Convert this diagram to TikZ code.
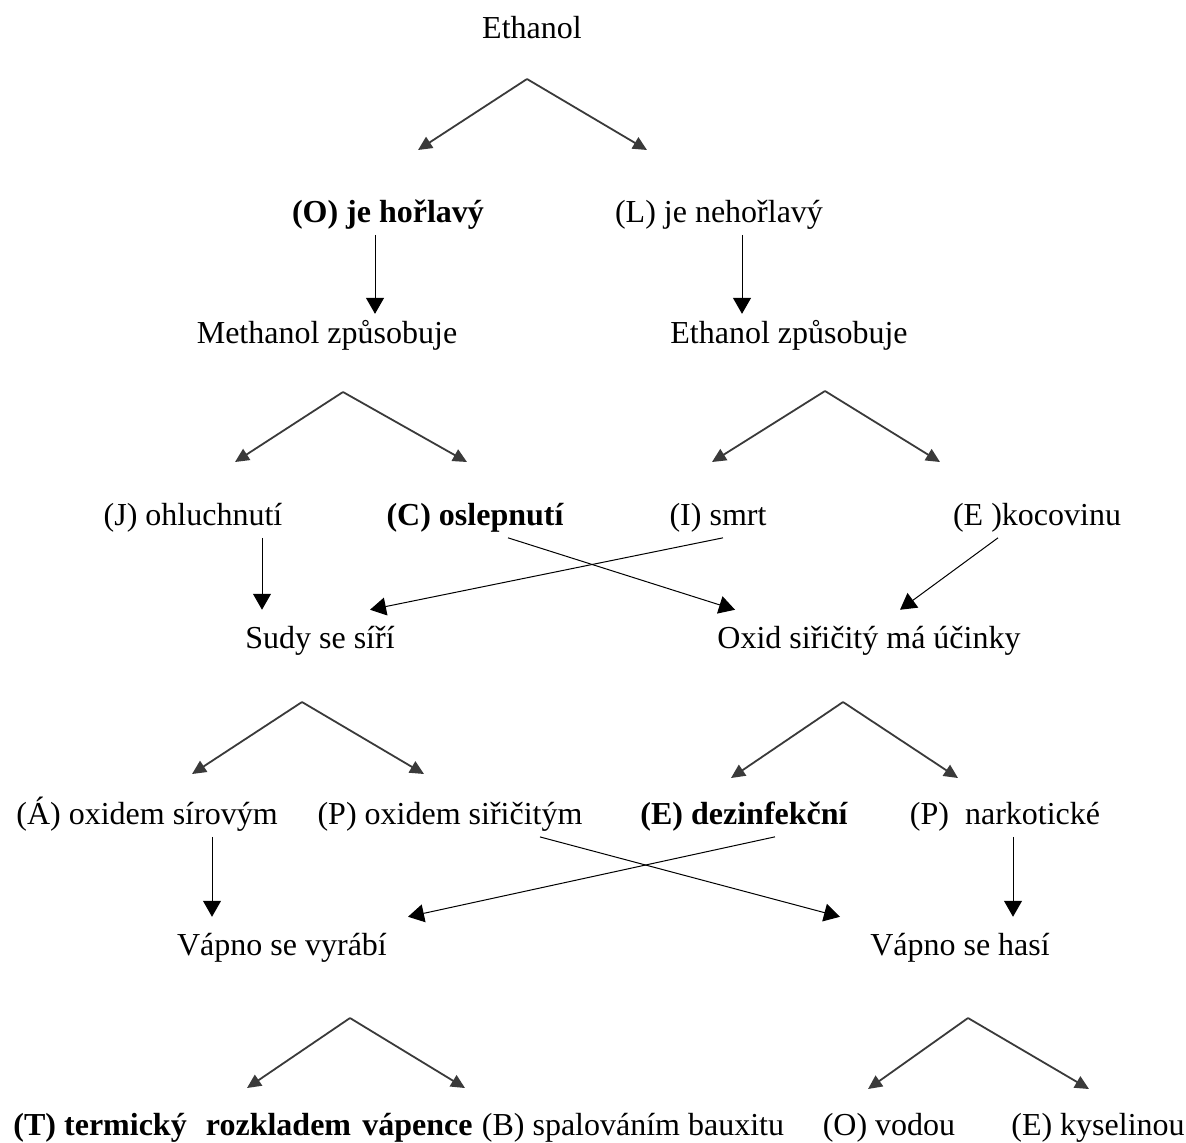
\documentclass[tikz,border=0pt]{standalone}
\usepackage{fontspec}
\setmainfont{Liberation Serif}
\usetikzlibrary{arrows.meta}
\definecolor{cfork}{HTML}{3A3A3A}
\tikzset{
  every picture/.style={font=\fontsize{16}{19}\selectfont},
  item/.style={anchor=base, inner sep=0pt, outer xsep=0pt, outer ysep=3pt},
  target/.style={item, outer ysep=8pt},
  key/.style={item, font=\fontsize{16}{19}\selectfont\bfseries},
  fork/.style={-{Triangle[length=7pt, width=6.5pt]}, draw=cfork, line width=0.9pt},
  arrow/.style={-{Triangle[length=8pt, width=9pt]}, draw=black, line width=0.5pt},
}
\begin{document}
\begin{tikzpicture}[x=0.5pt, y=-0.5pt]
  \useasboundingbox (0,0) rectangle (1186,1142);
  % forks
  \foreach \n/\ax/\ay/\lx/\rx/\ty in {1/527/79/418/647/150, 2/343/392/235/467/462,
      3/825/391/712/940/462, 4/302/702/192/424/774, 5/843/702/731/958/778,
      6/350/1018/247/465/1088, 7/968/1018/868/1089/1089}{
    \coordinate (f\n) at (\ax,\ay);
    \coordinate (f\n l) at (\lx,\ty);
    \coordinate (f\n r) at (\rx,\ty);
    \draw[fork] (f\n) -- (f\n l);
    \draw[fork] (f\n) -- (f\n r);
  }
  \node[item] (eth) at (532,38) {Ethanol};
  \node[key] (hor) at (388,222) {(O) je hořlavý};
  \node[item] (nehor) at (719,222) {(L) je nehořlavý};
  \node[item] (meth) at (327,343) {Methanol způsobuje};
  \node[item] (ethz) at (789,343) {Ethanol způsobuje};
  \draw[arrow] (hor.south -| 375,0) -- (meth.north -| 375,0);
  \draw[arrow] (nehor.south -| 742,0) -- (ethz.north -| 742,0);
  % effects
  \node[item] (ohl) at (193,525) {(J) ohluchnutí};
  \node[key] (osl) at (475,525) {(C) oslepnutí};
  \node[item] (smrt) at (718,525) {(I) smrt};
  \node[item] (koc) at (1037,525) {(E )kocovinu};
  \node[target] (sudy) at (320,648) {Sudy se síří};
  \node[target] (oxid) at (869,648) {Oxid siřičitý má účinky};
  \draw[arrow] (ohl.south -| 262,0) -- (sudy.north -| 262,0);
  \draw[arrow] (osl.south -| 508,0) -- (oxid.north -| 735,0);
  \draw[arrow] (smrt.south -| 723,0) -- (sudy.north -| 370,0);
  \draw[arrow] (koc.south -| 998,0) -- (oxid.north -| 900,0);
  % sulphur
  \node[item] (sir) at (147,824) {(Á) oxidem sírovým};
  \node[item] (sic) at (450,824) {(P) oxidem siřičitým};
  \node[key] (dez) at (744,824) {(E) dezinfekční};
  \node[item] (nar) at (1005,824) {(P)\ \ narkotické};
  \node[target] (vyr) at (282,955) {Vápno se vyrábí};
  \node[target] (has) at (960,955) {Vápno se hasí};
  \draw[arrow] (sir.south -| 212,0) -- (vyr.north -| 212,0);
  \draw[arrow] (sic.south -| 540,0) -- (has.north -| 840,0);
  \draw[arrow] (dez.south -| 775,0) -- (vyr.north -| 408,0);
  \draw[arrow] (nar.south -| 1013,0) -- (has.north -| 1013,0);
  % lime
  \node[key] (ter) at (243,1135) {(T) termický\hspace{0.6em}rozkladem\hspace{0.35em}vápence};
  \node[item] (spa) at (633,1135) {(B) spalováním bauxitu};
  \node[item] (vod) at (889,1135) {(O) vodou};
  \node[item] (kys) at (1098,1135) {(E) kyselinou};
\end{tikzpicture}
\end{document}
